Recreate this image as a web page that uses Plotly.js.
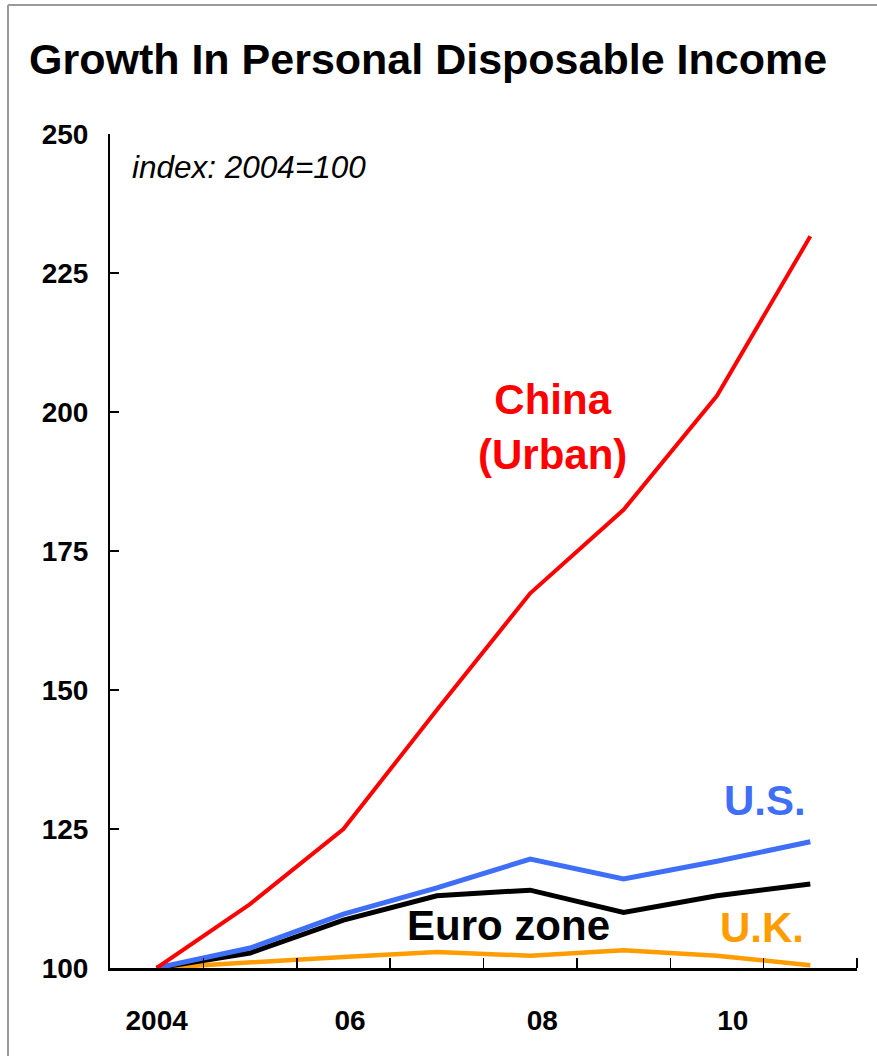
<!DOCTYPE html>
<html>
<head>
<meta charset="utf-8">
<script src="https://cdn.plot.ly/plotly-3.0.1.min.js"></script>
<style>
  html, body { margin: 0; padding: 0; background: #ffffff; }
  #chart { width: 877px; height: 1056px; }
</style>
</head>
<body>
<div id="chart"></div>
<script>
// ---- data ----
const years = [2004, 2005, 2006, 2007, 2008, 2009, 2010, 2011];
const china = [100, 111.5, 125.0, 146.4, 167.4, 182.4, 202.9, 231.6];
const us = [100, 103.6, 109.7, 114.4, 119.6, 116.0, 119.2, 122.7];
const euro = [100, 102.7, 108.6, 113.0, 114.0, 110.0, 113.0, 115.1];
const uk = [100, 101.1, 102.0, 102.9, 102.2, 103.2, 102.2, 100.5];
const yearLabelPos = [2004, 2006.07, 2008.13, 2010.17];
const yearLabels = ['2004', '06', '08', '10'];
const yTicks = [100, 125, 150, 175, 200, 225, 250];
const boundaries = [2004.5, 2005.5, 2006.5, 2007.5, 2008.5, 2009.5, 2010.5, 2011.5];

const FONT = 'Liberation Sans, Arial, sans-serif';
const RED = '#ff0000', BLUE = '#3f6ef7', BLACK = '#000000', ORANGE = '#ff9c00';

const traces = [
  {x: years, y: uk, mode: 'lines', line: {color: ORANGE, width: 4.5}, name: 'U.K.'},
  {x: years, y: euro, mode: 'lines', line: {color: BLACK, width: 5}, name: 'Euro zone'},
  {x: years, y: us, mode: 'lines', line: {color: BLUE, width: 5}, name: 'U.S.'},
  {x: years, y: china, mode: 'lines', line: {color: RED, width: 4}, name: 'China (Urban)'}
];

const L = 110, R = 20, T = 134, B = 88;
const PW = 877 - L - R, PH = 1056 - T - B;

const layout = {
  width: 877, height: 1056,
  margin: {l: L, r: R, t: T, b: B},
  paper_bgcolor: '#ffffff', plot_bgcolor: '#ffffff',
  showlegend: false,
  font: {family: FONT, color: '#000'},
  title: {
    text: '<b>Growth In Personal Disposable Income</b>',
    font: {family: FONT, size: 43, color: '#000'},
    x: 29 / 877, xanchor: 'left', xref: 'container',
    y: 1 - 59 / 1056, yanchor: 'middle', yref: 'container'
  },
  xaxis: {
    range: [2003.5, 2011.5],
    showgrid: false, zeroline: false,
    showline: true, linecolor: '#000', linewidth: 2.5,
    tickmode: 'array', tickvals: yearLabelPos, ticktext: yearLabels.map(t => '<b>' + t + '</b>'),
    ticks: '', ticklabelstandoff: 26,
    tickfont: {family: FONT, size: 28, color: '#000'},
    minor: {tickmode: 'array', tickvals: boundaries, ticks: 'inside', ticklen: 10, tickwidth: 1.5, tickcolor: '#000', showgrid: false}
  },
  yaxis: {
    range: [100, 250],
    showgrid: false, zeroline: false,
    showline: true, linecolor: '#000', linewidth: 2,
    tickmode: 'array', tickvals: yTicks, ticktext: yTicks.map(v => '<b>' + v + '</b>'),
    ticks: 'inside', ticklen: 9, tickwidth: 1.5, tickcolor: '#000',
    ticklabelstandoff: 14,
    tickfont: {family: FONT, size: 28, color: '#000'}
  },
  shapes: [
    {type: 'line', xref: 'paper', yref: 'paper', x0: (8 - L) / PW, x1: (8 - L) / PW, y0: -1, y1: 1 + (T - 5) / PH, line: {color: '#9a9a9a', width: 2}},
    {type: 'line', xref: 'paper', yref: 'paper', x0: (8 - L) / PW, x1: 2, y0: 1 + (T - 5) / PH, y1: 1 + (T - 5) / PH, line: {color: '#9a9a9a', width: 2}}
  ],
  annotations: [
    {xref: 'paper', yref: 'paper', x: (130 - L) / PW, y: (968 - 167) / PH, xanchor: 'left', yanchor: 'middle',
     text: '<i>index: 2004=100</i>', showarrow: false, font: {family: FONT, size: 31.5, color: '#000'}},
    {x: 2008.24, y: 197.3, text: '<b>China<br>(Urban)</b>', showarrow: false, xanchor: 'center', yanchor: 'middle',
     font: {family: FONT, size: 42, color: RED}},
    {x: 2010.51, y: 130.2, text: '<b>U.S.</b>', showarrow: false, xanchor: 'center', yanchor: 'middle',
     font: {family: FONT, size: 42, color: BLUE}},
    {x: 2007.77, y: 107.7, text: '<b>Euro zone</b>', showarrow: false, xanchor: 'center', yanchor: 'middle',
     font: {family: FONT, size: 42, color: BLACK}},
    {x: 2010.48, y: 107.2, text: '<b>U.K.</b>', showarrow: false, xanchor: 'center', yanchor: 'middle',
     font: {family: FONT, size: 42, color: ORANGE}}
  ]
};

Plotly.newPlot('chart', traces, layout, {displayModeBar: false, staticPlot: true});
</script>
</body>
</html>
